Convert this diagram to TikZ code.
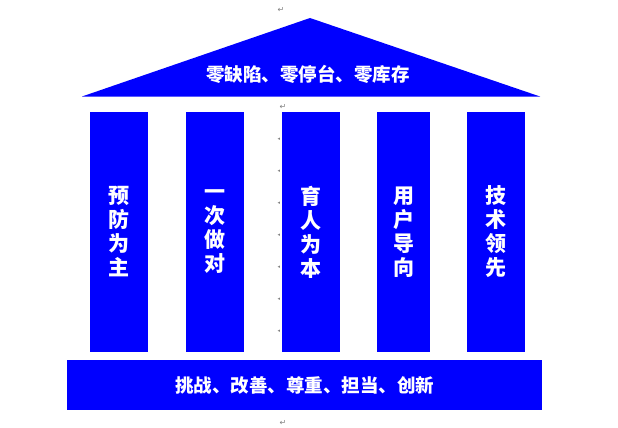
\documentclass[tikz,border=0pt]{standalone}
\usepackage{fontspec}
\newfontfamily\cjk{Noto Sans CJK SC}
\newfontfamily\symf{DejaVu Sans}
\definecolor{pblue}{HTML}{0000FF}
\definecolor{markgray}{HTML}{808080}
\tikzset{
  pillar/.style={fill=pblue, draw=none, inner sep=0pt, minimum height=240pt, align=center,
    text=white, font=\cjk\bfseries\fontsize{21pt}{24pt}\selectfont},
  band/.style={fill=pblue, draw=none, inner sep=0pt, text=white,
    font=\cjk\bfseries\fontsize{18.5pt}{22pt}\selectfont},
  pmark/.style={text=markgray, inner sep=0pt, font=\symf\fontsize{8pt}{8pt}\selectfont},
  tmark/.style={text=markgray, inner sep=0pt, font=\symf\fontsize{5pt}{5pt}\selectfont}
}
\begin{document}
\begin{tikzpicture}[x=1pt,y=-1pt]
\useasboundingbox (0,0) rectangle (618,428);
% roof
\coordinate (rl) at (82,96.5);
\coordinate (rr) at (540,96.5);
\coordinate (ra) at (310,18);
\fill[pblue] (rl) -- (ra) -- (rr) -- cycle;
\node[band, fill=none] (rooftext) at (308,74) {零缺陷、零停台、零库存};
% pillars
\node[pillar, minimum width=58pt] (p1) at (119,232) {预\\防\\为\\主};
\node[pillar, minimum width=58pt] (p2) at (215,232) {一\\次\\做\\对};
\node[pillar, minimum width=58pt] (p3) at (311,232) {育\\人\\为\\本};
\node[pillar, minimum width=53pt] (p4) at (403.5,232) {用\\户\\导\\向};
\node[pillar, minimum width=58pt] (p5) at (496,232) {技\\术\\领\\先};
% base
\node[band, minimum width=475pt, minimum height=50pt] (base) at (304.5,385) {挑战、改善、尊重、担当、创新};
% formatting marks
\node[pmark] (m1) at (281,10) {↵};
\node[pmark] (m2) at (283,107) {↵};
\node[pmark] (m3) at (283,423) {↵};
\foreach \yy [count=\i] in {139,171,203,235,267,299,331}{
  \node[tmark] (t\i) at (279,\yy) {◂};
}
\end{tikzpicture}
\end{document}
